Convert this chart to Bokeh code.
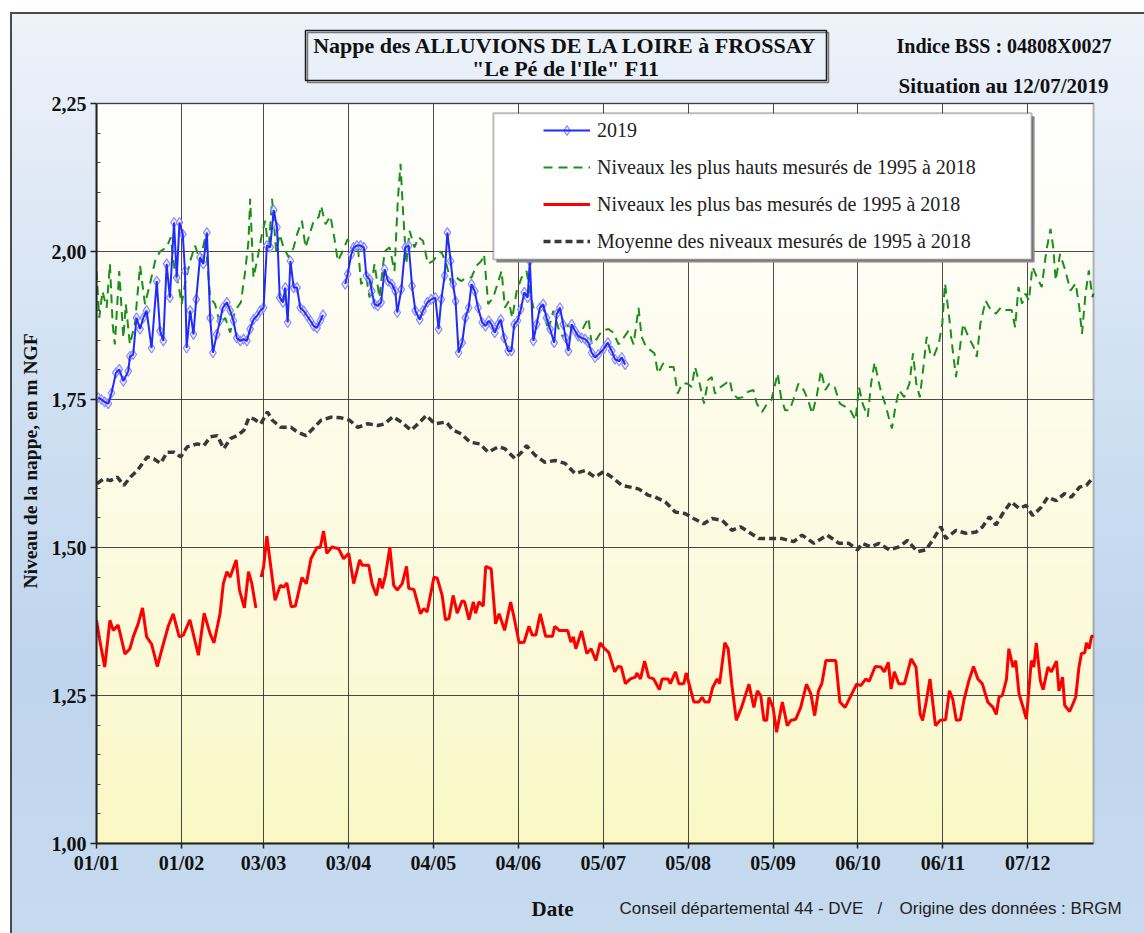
import numpy as np
from bokeh.plotting import figure
from bokeh.layouts import column
from bokeh.models import (Range1d, FixedTicker, Legend, LegendItem,
                          BoxAnnotation, ColumnDataSource, CustomJSTickFormatter)
from bokeh.core.properties import value
from bokeh.embed import file_html
from bokeh.resources import INLINE

nan = float("nan")

# ---------------- data (day of year since 01/01, level in m NGF) ----------------
tick_days = [0, 31, 61, 92, 123, 154, 185, 216, 247, 278, 309, 340]
tick_labels = ["01/01", "01/02", "03/03", "03/04", "04/05", "04/06",
               "05/07", "05/08", "05/09", "06/10", "06/11", "07/12"]
y_ticks = [1.0, 1.25, 1.5, 1.75, 2.0, 2.25]

year_2019 = [
    (0.6, 1.753), (1.8, 1.75), (3, 1.746), (4.3, 1.743), (5.5, 1.761), (7.1, 1.795), (8.3, 1.801),
    (9.8, 1.781), (11.6, 1.798), (12.2, 1.823), (13.4, 1.826), (14.6, 1.888), (15.9, 1.869),
    (17.1, 1.888), (18.3, 1.9), (20.1, 1.837), (22, 1.95), (23.2, 1.866), (24.4, 1.849),
    (25.6, 1.979), (26.8, 1.922), (28.3, 2.049), (29.3, 1.956), (30.3, 2.049), (31.5, 2.029),
    (32.3, 1.967), (32.9, 1.837), (34.2, 1.9), (35.4, 1.86), (36.4, 1.919), (37.8, 1.99),
    (39, 1.979), (40.3, 2.032), (41.5, 1.888), (42.5, 1.829), (43.9, 1.86), (45.1, 1.883),
    (46.1, 1.905), (47.6, 1.914), (48.8, 1.9), (50, 1.883), (51.2, 1.854), (52.5, 1.849),
    (53.7, 1.852), (54.9, 1.849), (56.1, 1.869), (57.3, 1.885), (58.6, 1.891), (59.8, 1.9),
    (61, 1.905), (62.2, 2.01), (63.4, 2.007), (64.7, 2.07), (65.9, 2.041), (66.9, 1.922),
    (68.1, 1.914), (68.9, 1.939), (69.8, 1.88), (70.8, 1.984), (72, 1.939), (73.2, 1.939),
    (74.4, 1.905), (75.6, 1.9), (76.9, 1.891), (78.1, 1.883), (79.3, 1.874), (80.5, 1.871),
    (81.7, 1.883), (82.7, 1.893),
    (86, nan),
    (90.8, 1.945), (91.7, 1.962), (93, 1.995), (93.9, 2.007), (95.1, 2.01), (96.4, 2.01),
    (97.6, 2.007), (98.5, 1.959), (99.7, 1.953), (100.5, 1.933), (101.5, 1.911), (102.7, 1.908),
    (103.9, 1.914), (105.2, 1.97), (106.4, 1.95), (107.8, 1.945), (109.1, 1.933), (109.8, 1.897),
    (111.3, 1.936), (112.7, 2.007), (114, 2.01), (115.2, 1.942), (116.4, 1.9), (118, 1.885),
    (119.2, 1.9), (120.8, 1.914), (122.2, 1.919), (123.7, 1.922), (124.9, 1.869), (125.9, 1.919),
    (127.1, 1.959), (128.1, 2.032), (129.3, 1.984), (130.2, 1.945), (131.1, 1.916), (132.2, 1.829),
    (133.5, 1.846), (134.7, 1.888), (135.9, 1.905), (136.9, 1.945), (138.1, 1.933), (139.3, 1.905),
    (140.8, 1.88), (142, 1.874), (143.2, 1.883), (144.2, 1.877), (145.4, 1.863), (146.6, 1.877),
    (147.6, 1.885), (148.8, 1.854), (150.3, 1.832), (151.5, 1.832), (152.5, 1.877), (153.7, 1.883),
    (154.9, 1.902), (156.2, 1.931), (157.4, 1.922), (158.2, 1.984), (159.5, 1.849), (160.7, 1.877),
    (161.9, 1.905), (163.1, 1.911), (164.3, 1.888), (165.6, 1.869), (167.1, 1.846), (168, 1.894),
    (169.2, 1.905), (170.4, 1.877), (171.3, 1.854), (172.3, 1.832), (173.5, 1.877), (174.7, 1.866),
    (175.9, 1.857), (177.1, 1.854), (178.4, 1.852), (179.6, 1.846), (180.8, 1.829), (182, 1.821),
    (183.2, 1.826), (185.1, 1.835), (186.7, 1.846), (188.1, 1.832), (189.3, 1.818), (190.8, 1.815),
    (191.8, 1.821), (193, 1.809),
]

highest_1995_2018 = [
    (0, 1.967), (1, 1.888), (2.2, 1.933), (3.7, 1.905), (4.9, 1.979), (5.9, 1.877), (6.7, 1.843),
    (8.3, 1.967), (9.8, 1.854), (10.7, 1.911), (12.2, 1.843), (14, 1.877), (15.9, 1.976),
    (17.7, 1.911), (19.5, 1.945), (21.4, 1.984), (23.2, 2.0), (25.6, 2.007), (27.1, 2.024),
    (28.7, 1.962), (29.9, 1.945), (31.1, 1.911), (32.3, 1.945), (34.2, 1.984), (36, 2.01),
    (37.8, 1.984), (39.7, 2.024), (41.5, 1.922), (43.3, 1.911), (45.1, 1.877), (47, 1.888),
    (48.8, 1.863), (50.6, 1.9), (52.7, 1.914), (54.3, 1.967), (55.5, 2.018), (56.1, 2.089),
    (57.3, 1.956), (58.6, 1.984), (60.4, 2.029), (61.6, 2.052), (62.8, 2.0), (64.1, 2.089),
    (65.6, 2.0), (66.9, 2.029), (68.3, 2.007), (70.2, 1.99), (72, 2.007), (73.2, 2.029),
    (75, 2.052), (76.3, 2.007), (77.5, 2.024), (79.3, 2.052), (81.1, 2.058), (82, 2.077),
    (83.6, 2.046), (85.4, 2.06), (86.9, 2.021), (88.1, 1.984), (89.8, 2.0), (91.7, 2.021),
    (93.6, 2.0), (95.4, 2.01), (96.6, 1.945), (98.5, 1.956), (99.7, 1.922), (101.5, 1.979),
    (103.3, 1.922), (105.2, 2.0), (107, 2.007), (108.8, 1.967), (110, 2.086), (111, 2.148),
    (111.9, 2.069), (113.1, 1.979), (114.3, 2.035), (116.1, 2.007), (117.6, 2.024), (119.2, 2.018),
    (121, 1.979), (122.9, 1.984), (124.7, 1.995), (125.9, 2.0), (127.7, 1.979), (129.6, 1.945),
    (131.4, 1.956), (133.2, 1.95), (135.1, 1.956), (136.9, 1.956), (138.7, 1.976), (140.5, 1.984),
    (141.5, 1.995), (143, 1.911), (144.8, 1.922), (146.4, 1.945), (147.9, 1.967), (149.1, 1.905),
    (150.5, 1.916), (151.8, 1.888), (153.4, 1.933), (155.2, 1.956), (157, 1.967), (158.2, 1.933),
    (159.5, 1.905), (161.3, 1.911), (163.1, 1.905), (164.9, 1.866), (166.8, 1.9), (168.6, 1.871),
    (170.4, 1.854), (172.3, 1.877), (174.1, 1.866), (175.9, 1.854), (177.7, 1.871), (179.6, 1.888),
    (180.8, 1.843), (182.6, 1.852), (184.5, 1.866), (186.9, 1.869), (188.7, 1.863), (190.6, 1.843),
    (192.4, 1.854), (194.2, 1.866), (196.1, 1.843), (197.9, 1.905), (199, 1.856), (200.6, 1.839),
    (203.7, 1.828), (205, 1.794), (206.9, 1.811), (208.8, 1.805), (210.7, 1.805), (212.2, 1.76),
    (213.8, 1.777), (215.7, 1.777), (217.3, 1.771), (218.5, 1.805), (220.2, 1.777), (221.8, 1.743),
    (223.3, 1.783), (224.6, 1.788), (225.8, 1.76), (227.8, 1.771), (229.7, 1.777), (231.2, 1.783),
    (232.2, 1.76), (234.1, 1.752), (236, 1.754), (237.9, 1.763), (239.8, 1.766), (241.1, 1.743),
    (243, 1.729), (244.9, 1.743), (246.4, 1.749), (248.7, 1.794), (249.9, 1.754), (251.4, 1.732),
    (253.1, 1.732), (254.7, 1.754), (256.3, 1.777), (258.2, 1.766), (259.8, 1.749), (261.3, 1.726),
    (262.9, 1.754), (264.5, 1.799), (266.1, 1.766), (267.6, 1.777), (269.5, 1.771), (271.4, 1.743),
    (273.3, 1.738), (275.2, 1.732), (277.1, 1.715), (278.4, 1.771), (279.7, 1.743), (281.6, 1.721),
    (282.8, 1.777), (284.1, 1.813), (285.4, 1.783), (286.6, 1.76), (287.9, 1.743), (289.2, 1.721),
    (290.4, 1.701), (291.7, 1.738), (293, 1.766), (294.9, 1.754), (296.8, 1.777), (298.1, 1.828),
    (299.3, 1.777), (300.6, 1.754), (301.9, 1.805), (303.1, 1.856), (304.4, 1.828), (305.6, 1.822),
    (307.5, 1.844), (308.8, 1.878), (309.8, 1.946), (311.3, 1.889), (312.6, 1.833), (313.8, 1.788),
    (315.1, 1.833), (316.4, 1.878), (318.3, 1.856), (320.2, 1.839), (321.4, 1.822), (322.7, 1.878),
    (324.6, 1.917), (326.5, 1.901), (328.4, 1.895), (330.3, 1.906), (332.2, 1.901), (334.1, 1.901),
    (335.4, 1.872), (336.6, 1.94), (337.9, 1.912), (339.2, 1.929), (340.4, 1.917), (341.7, 1.974),
    (343.3, 1.957), (345.1, 1.94), (346.8, 2.002), (348.3, 2.038), (349.3, 2.007), (350.2, 1.951),
    (351.8, 1.996), (353.7, 1.968), (355.6, 1.934), (357.5, 1.946), (358.8, 1.906), (359.8, 1.861),
    (361.1, 1.929), (362.3, 1.968), (363.6, 1.923), (364, 1.929),
]

lowest_1995_2018 = [
    (0, 1.377), (1.2, 1.343), (3, 1.298), (4.9, 1.377), (6.1, 1.36), (7.9, 1.369), (10.4, 1.32),
    (12.2, 1.329), (13.4, 1.349), (15.2, 1.371), (16.8, 1.398), (18.3, 1.349), (20.1, 1.337),
    (22.2, 1.299), (24.4, 1.337), (26.2, 1.367), (28, 1.388), (30.2, 1.349), (31.7, 1.352),
    (34.1, 1.378), (37.2, 1.318), (39.3, 1.389), (41.5, 1.354), (42.9, 1.339), (45.1, 1.388),
    (46.3, 1.439), (47.6, 1.459), (48.8, 1.45), (51, 1.479), (52.2, 1.428), (54, 1.398),
    (55.5, 1.459), (56.7, 1.439), (58.2, 1.398), (59.2, nan), (60.1, 1.45), (61, 1.467),
    (62.2, 1.519), (65.2, 1.411), (67.1, 1.436), (68.3, 1.433), (69.5, 1.44), (71.1, 1.4),
    (72.6, 1.401), (75, 1.449), (76.6, 1.439), (78.3, 1.481), (80.5, 1.5), (81.7, 1.5),
    (82.9, 1.528), (84.1, 1.49), (86, 1.501), (88.4, 1.498), (90.2, 1.481), (92.1, 1.49),
    (93.9, 1.439), (96.1, 1.479), (97, 1.47), (99.4, 1.47), (100.6, 1.439), (102.2, 1.419),
    (103.4, 1.448), (104.3, 1.431), (105.5, 1.453), (107.1, 1.5), (108.5, 1.436), (109.8, 1.428),
    (111.6, 1.439), (113.2, 1.468), (114, 1.431), (115.9, 1.429), (118.3, 1.388), (119.5, 1.397),
    (120.7, 1.391), (123.2, 1.45), (124.4, 1.448), (126.2, 1.419), (127.4, 1.378), (128.7, 1.38),
    (130.2, 1.419), (131.7, 1.389), (133.5, 1.41), (134.4, 1.408), (136, 1.378), (137.6, 1.408),
    (138.4, 1.389), (139.6, 1.408), (141.2, 1.401), (142.1, 1.468), (144.1, 1.464), (145.7, 1.371),
    (147, 1.388), (149, 1.36), (151.2, 1.408), (152.4, 1.383), (154.3, 1.339), (156.1, 1.34),
    (157.9, 1.367), (159.1, 1.352), (160.4, 1.352), (162, 1.388), (164, 1.35), (166.5, 1.35),
    (167.3, 1.367), (168.9, 1.36), (172, 1.36), (173.2, 1.34), (174.1, 1.349), (175, 1.329),
    (177.1, 1.359), (179, 1.321), (180.6, 1.329), (182.3, 1.309), (183.9, 1.339), (185.5, 1.329),
    (187, 1.323), (189.2, 1.29), (190.4, 1.299), (191.6, 1.298), (193.1, 1.27), (194.9, 1.278),
    (196.7, 1.281), (197.3, 1.288), (198.6, 1.278), (200.1, 1.308), (201.6, 1.281), (203.4, 1.278),
    (205.5, 1.26), (206.5, 1.278), (208.7, 1.278), (209.5, 1.27), (211.4, 1.29), (212.6, 1.27),
    (214.4, 1.27), (215.3, 1.288), (218.1, 1.239), (219.9, 1.239), (221.1, 1.247), (222.1, 1.239),
    (223.6, 1.239), (225, 1.264), (226.6, 1.278), (227.5, 1.27), (229.4, 1.339), (230.6, 1.329),
    (231.9, 1.27), (233.6, 1.208), (235.5, 1.23), (238.2, 1.269), (240, 1.23), (241.3, 1.258),
    (242.5, 1.25), (243.7, 1.208), (244.7, 1.208), (245.5, 1.247), (247, 1.23), (248.3, 1.188),
    (250.4, 1.239), (252.2, 1.199), (253.5, 1.208), (255.3, 1.21), (257.1, 1.23), (259.2, 1.269),
    (260.8, 1.253), (262.2, 1.216), (263.6, 1.258), (264.8, 1.27), (266.3, 1.309), (269.9, 1.309),
    (271.4, 1.239), (273.3, 1.23), (274.8, 1.244), (277.5, 1.269), (279.1, 1.267), (280.9, 1.278),
    (282.1, 1.274), (284.3, 1.299), (286.4, 1.298), (287.6, 1.29), (289.1, 1.306), (290.1, 1.261),
    (291.3, 1.29), (292.9, 1.27), (295, 1.27), (297.4, 1.312), (299.2, 1.298), (300.7, 1.219),
    (301.6, 1.208), (302.9, 1.239), (304.3, 1.278), (306.3, 1.199), (308, 1.208), (310, 1.209),
    (311.4, 1.258), (312.6, 1.244), (313.9, 1.208), (315.4, 1.209), (316.7, 1.242), (318.5, 1.275),
    (320.2, 1.299), (321.8, 1.278), (323.4, 1.27), (325.4, 1.239), (327.3, 1.23), (328.5, 1.218),
    (329.5, 1.247), (330.7, 1.25), (332.2, 1.277), (333.1, 1.329), (334.6, 1.298), (335.6, 1.309),
    (336.8, 1.253), (338.3, 1.23), (339.5, 1.21), (341.3, 1.309), (342.2, 1.298), (343.1, 1.339),
    (344.6, 1.275), (345.6, 1.26), (347.4, 1.298), (348.6, 1.29), (350.5, 1.308), (351.4, 1.258),
    (352.7, 1.281), (353.5, 1.233), (355.3, 1.223), (357.5, 1.247), (358.7, 1.298), (359.6, 1.321),
    (360.8, 1.322), (361.4, 1.339), (362.4, 1.329), (363.3, 1.35), (364, 1.35),
]

mean_1995_2018 = [
    (0.2, 1.608), (2.6, 1.616), (5.1, 1.613), (7.6, 1.619), (10, 1.605), (12.4, 1.619), (14.9, 1.63),
    (18.5, 1.653), (20.9, 1.65), (23.4, 1.642), (25.8, 1.661), (28.3, 1.661), (30.7, 1.653),
    (33.1, 1.67), (36.8, 1.675), (39.2, 1.672), (41.6, 1.687), (44.1, 1.689), (46.5, 1.667),
    (48.9, 1.684), (51.4, 1.689), (53.8, 1.698), (55.7, 1.72), (57.5, 1.717), (60, 1.709),
    (62.4, 1.729), (64.2, 1.715), (67.3, 1.703), (71, 1.703), (73.4, 1.695), (76.5, 1.689),
    (79.5, 1.703), (82, 1.715), (85.6, 1.72), (89.3, 1.719), (92.4, 1.715), (95.4, 1.703),
    (99.1, 1.709), (102.8, 1.706), (105.2, 1.709), (108.2, 1.721), (111.3, 1.712), (114.9, 1.698),
    (117.4, 1.709), (120.4, 1.723), (123.5, 1.709), (127.7, 1.712), (130.2, 1.698), (133.2, 1.692),
    (136.3, 1.678), (139.9, 1.675), (143, 1.661), (146.7, 1.67), (149.1, 1.667), (152.8, 1.65),
    (155.2, 1.661), (157, 1.672), (160.1, 1.656), (163.7, 1.644), (167.4, 1.647), (171.1, 1.642),
    (174.7, 1.625), (178.4, 1.63), (182, 1.619), (185.1, 1.628), (188.1, 1.619), (191.8, 1.605),
    (194.9, 1.602), (197.9, 1.599), (201.6, 1.588), (204, 1.585), (207.7, 1.577), (211.3, 1.56),
    (215, 1.557), (218, 1.549), (221.7, 1.54), (224.7, 1.549), (228.4, 1.546), (232, 1.529),
    (235.1, 1.535), (238.2, 1.526), (241.8, 1.515), (246.7, 1.515), (250.3, 1.515), (254.6, 1.51),
    (257.6, 1.521), (261.9, 1.507), (266.8, 1.521), (271.1, 1.507), (274.7, 1.507), (277.8, 1.496),
    (279.6, 1.507), (282.7, 1.501), (285.7, 1.507), (289.4, 1.496), (293, 1.501), (296.1, 1.512),
    (299.7, 1.493), (302.8, 1.496), (305.2, 1.512), (308.3, 1.535), (310.1, 1.515), (313.8, 1.529),
    (317.4, 1.524), (321.1, 1.526), (323.5, 1.535), (326, 1.552), (328.4, 1.538), (330.8, 1.557),
    (333.9, 1.577), (336.9, 1.566), (339.4, 1.571), (341.8, 1.554), (344.9, 1.568), (347.3, 1.585),
    (350.4, 1.579), (353.4, 1.591), (355.9, 1.585), (358.9, 1.602), (361.4, 1.605), (364, 1.619),
]

legend_labels = ["2019",
                 "Niveaux les plus hauts mesurés de 1995 à 2018",
                 "Niveaux les plus bas mesurés de 1995 à 2018",
                 "Moyenne des niveaux mesurés de 1995 à 2018"]

title_lines = ["Nappe des ALLUVIONS DE LA LOIRE à FROSSAY", "\"Le Pé de l'Ile\" F11"]
header_right = ["Indice BSS : 04808X0027", "Situation au 12/07/2019"]
x_axis_title = "Date"
footer_parts = ["Conseil départemental 44 - DVE", "/", "Origine des données : BRGM"]
y_axis_title = "Niveau de la nappe, en m NGF"


def src(pairs):
    d, v = zip(*pairs)
    return ColumnDataSource(dict(day=list(d), level=list(v)))


SERIF = "Liberation Serif"
W, H = 1144, 933
# plot-area box in page pixels
PL, PR, PT, PB = 96, 1093, 103, 843
MAIN_H = 880

X0, X1 = 0, 364
Y0, Y1 = 1.0, 2.25
px_per_day = (PR - PL) / (X1 - X0)
px_per_m = (PB - PT) / (Y1 - Y0)
X_END = X1 + (W - PR) / px_per_day     # frame extends to the right canvas edge
Y_END = Y1 + PT / px_per_m              # frame extends to the top canvas edge

p = figure(width=W, height=MAIN_H, x_range=Range1d(X0, X_END), y_range=Range1d(Y0, Y_END),
           output_backend="svg", toolbar_location=None,
           min_border_left=PL, min_border_right=0, min_border_top=0, min_border_bottom=MAIN_H - PB,
           border_fill_color=None, background_fill_color=None, outline_line_color=None)
p.title = None
# page-pixel coordinate system for the header texts
p.extra_x_ranges = {"px": Range1d(PL, W)}
p.extra_y_ranges = {"py": Range1d(PB, 0)}

# plot area vertical gradient (white top -> pale yellow bottom)
n = 256
img = np.empty((n, 1), dtype=np.uint32)
view = img.view(dtype=np.uint8).reshape((n, 1, 4))
t = np.linspace(0.0, 1.0, n)  # 0 bottom -> 1 top
view[:, 0, 0] = (251 + 4 * t).astype(np.uint8)
view[:, 0, 1] = (248 + 7 * t).astype(np.uint8)
view[:, 0, 2] = (196 + 59 * t ** 0.8).astype(np.uint8)
view[:, 0, 3] = 255
p.image_rgba(image=[img], x=X0, y=Y0, dw=X1 - X0, dh=Y1 - Y0, level="image")

p.xaxis.ticker = FixedTicker(ticks=tick_days)
p.xaxis.formatter = CustomJSTickFormatter(args=dict(days=tick_days, labels=tick_labels),
                                          code="const i = days.indexOf(tick); return i >= 0 ? labels[i] : '';")
minor = [round(1.0 + 0.05 * k, 2) for k in range(26) if k % 5 != 0]
p.yaxis.ticker = FixedTicker(ticks=y_ticks, minor_ticks=minor)
p.yaxis.formatter = CustomJSTickFormatter(code="return tick.toFixed(2).replace('.', ',');")
p.xaxis.bounds = (X0, X1)
p.yaxis.bounds = (Y0, Y1)

for ax in (p.xaxis, p.yaxis):
    ax.axis_line_color = "#222222"
    ax.axis_line_width = 2
    ax.major_tick_line_color = "#222222"
    ax.major_tick_line_width = 1.5
    ax.minor_tick_line_color = "#444444"
    ax.major_tick_in = 0
    ax.major_label_text_font = SERIF
    ax.major_label_text_font_style = "bold"
    ax.major_label_text_font_size = "20px"
    ax.major_label_text_color = "#111111"

p.xaxis.major_tick_out = 5
p.xaxis.minor_tick_out = 0
p.xaxis.minor_tick_in = 0
p.xaxis.major_label_standoff = 3
p.yaxis.major_tick_out = 6
p.yaxis.minor_tick_out = 0
p.yaxis.minor_tick_in = 4
p.yaxis.major_label_standoff = 4
# the axis label is centred on the frame, which reaches the top of the canvas;
# trailing no-break spaces re-centre the visible words on the plot area
p.yaxis.axis_label = y_axis_title + "\u00a0" * 16
p.yaxis.axis_label_text_font = SERIF
p.yaxis.axis_label_text_font_style = "bold"
p.yaxis.axis_label_text_font_size = "19.5px"
p.yaxis.axis_label_text_color = "#111111"
p.yaxis.axis_label_standoff = 8

GRID = dict(line_color="#2a2a2a", line_alpha=0.85, line_width=1)
if "cross_bounds" in p.xgrid[0].properties():
    p.xgrid.cross_bounds = (Y0, Y1)
    p.ygrid.cross_bounds = (X0, X1)
    p.xgrid.bounds = (X0, X1)
    p.ygrid.bounds = (Y0, Y1)
    for g in (p.xgrid, p.ygrid):
        g.grid_line_color = GRID["line_color"]
        g.grid_line_alpha = GRID["line_alpha"]
        g.grid_line_width = GRID["line_width"]
else:
    p.grid.visible = False
    p.segment(x0=tick_days[1:], y0=Y0, x1=tick_days[1:], y1=Y1, level="underlay", **GRID)
    p.segment(x0=X0, y0=y_ticks[1:-1], x1=X1, y1=y_ticks[1:-1], level="underlay", **GRID)

hi = p.line("day", "level", source=src(highest_1995_2018), line_color="#1a8f1a",
            line_width=2, line_dash="9 6")
mean = p.line("day", "level", source=src(mean_1995_2018), line_color="#383838",
              line_width=3.5, line_dash="7 4")
lo = p.line("day", "level", source=src(lowest_1995_2018), line_color="#ff0000", line_width=3)
s19 = src(year_2019)
mk = p.scatter("day", "level", source=s19, marker="diamond", size=10,
               line_color="#8a8aff", line_width=1.2, fill_color="#e4e4ff", fill_alpha=0.6)
ln = p.line("day", "level", source=s19, line_color="#1f2bff", line_width=2)

# plot-area border
p.add_layout(BoxAnnotation(left=X0, right=X1, bottom=Y0, top=Y1, fill_alpha=0,
                           line_color="#222222", line_width=2))
# legend shadow, box and legend
LB = dict(left=144.9, right=341.4, bottom=1.9865, top=2.2336)
dx, dy = 3 / px_per_day, 3 / px_per_m
p.add_layout(BoxAnnotation(left=LB["left"] + dx, right=LB["right"] + dx,
                           bottom=LB["bottom"] - dy, top=LB["top"] - dy,
                           fill_color="#8a8a8a", fill_alpha=1.0, line_alpha=0))
p.add_layout(BoxAnnotation(fill_color="#ffffff", fill_alpha=1.0, line_color="#222222",
                           line_width=2, **LB))
legend = Legend(items=[LegendItem(label=legend_labels[0], renderers=[mk, ln]),
                       LegendItem(label=legend_labels[1], renderers=[hi]),
                       LegendItem(label=legend_labels[2], renderers=[lo]),
                       LegendItem(label=legend_labels[3], renderers=[mean])],
                location=(447, 590), orientation="vertical",
                glyph_width=47, glyph_height=24, label_height=24, label_width=420,
                spacing=13, padding=0, margin=0, label_standoff=7,
                border_line_alpha=0, background_fill_alpha=0,
                label_text_font=SERIF, label_text_font_size="20px",
                label_text_color="#222222")
p.add_layout(legend)

# header (page pixel coordinates)
HX = dict(x_range_name="px", y_range_name="py")
p.quad(left=[307], right=[828], top=[32], bottom=[82], fill_color=None,
       line_color="#777777", line_width=1.5, **HX)
p.quad(left=[305], right=[826], top=[30], bottom=[80], fill_color=None,
       line_color="#1a1a1a", line_width=1.5, **HX)
p.text(x=[565, 565], y=[45, 68], text=title_lines, text_align="center", text_baseline="middle",
       text_font=value(SERIF), text_font_style="bold", text_font_size="22px",
       text_color="#111111", **HX)
p.text(x=[896], y=[45], text=header_right[:1], text_align="left", text_baseline="middle",
       text_font=value(SERIF), text_font_style="bold", text_font_size="20px",
       text_color="#111111", **HX)
p.text(x=[898], y=[85], text=header_right[1:], text_align="left", text_baseline="middle",
       text_font=value(SERIF), text_font_style="bold", text_font_size="21px",
       text_color="#111111", **HX)

# ---------------- footer ----------------
BOT_H = H - MAIN_H
bot = figure(width=W, height=BOT_H, x_range=Range1d(PL, W), y_range=Range1d(H, MAIN_H),
             output_backend="svg", toolbar_location=None, x_axis_type=None, y_axis_type=None,
             min_border_left=PL, min_border_right=0, min_border_top=0, min_border_bottom=0,
             border_fill_color=None, background_fill_color=None, outline_line_color=None)
bot.title = None
bot.grid.visible = False
bot.text(x=[531], y=[908], text=[x_axis_title], text_align="left", text_baseline="middle",
         text_font=value(SERIF), text_font_style="bold", text_font_size="21px", text_color="#111111")
bot.text(x=[619, 877, 899], y=[908, 908, 908], text=footer_parts, text_align="left",
         text_baseline="middle", text_font=value("Liberation Sans"), text_font_size="17px",
         text_color="#222222")

page = column(p, bot, spacing=0)
page.styles = {
    "background": (
        "linear-gradient(#4a4a4a,#4a4a4a) 10px 12px / 2px 100% no-repeat, "
        "linear-gradient(#4a4a4a,#4a4a4a) 10px 12px / 100% 2px no-repeat, "
        "linear-gradient(180deg, #eef3fa 0%, #e2ebf6 15%, #cfe0f2 42%, #bfd5ed 70%, #c7dbef 100%) "
        "10px 12px / 100% 100% no-repeat, #ffffff"
    )
}

open("out.html", "w").write(file_html(page, INLINE))
